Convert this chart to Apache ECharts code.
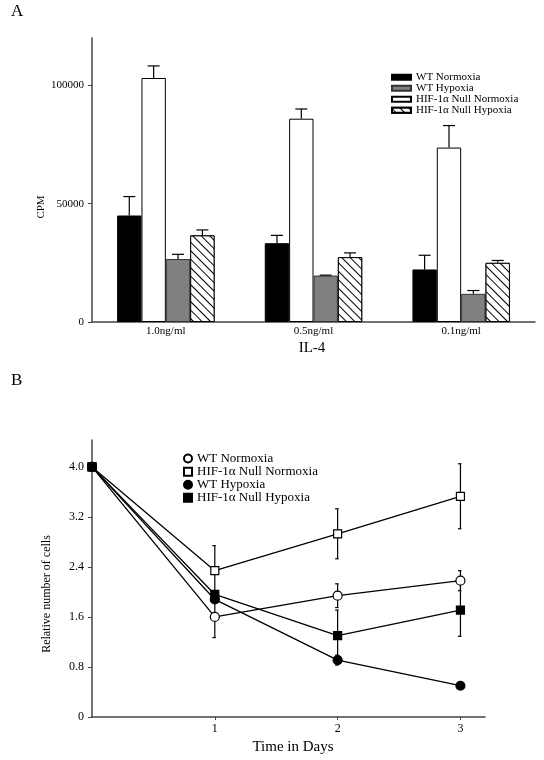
<!DOCTYPE html>
<html>
<head>
<meta charset="utf-8">
<script src="https://cdn.jsdelivr.net/npm/echarts@6/dist/echarts.min.js"></script>
<style>
html,body{margin:0;padding:0;background:#fff;}
#chart{width:544px;height:760px;}
</style>
</head>
<body>
<div id="chart"></div>
<script>
// ---------- Panel A data ----------
var categories = ['1.0ng/ml', '0.5ng/ml', '0.1ng/ml'];
var barNames = ['WT Normoxia', 'HIF-1\u03b1 Null Normoxia', 'WT Hypoxia', 'HIF-1\u03b1 Null Hypoxia'];
var wtNorm = [45000, 33300, 22200];
var wtNormErr = [8000, 3300, 6000];
var nullNorm = [103100, 85900, 73700];
var nullNormErr = [5100, 4100, 9300];
var wtHyp = [26600, 19600, 11900];
var wtHypErr = [2000, 200, 1400];
var nullHyp = [36600, 27400, 25000];
var nullHypErr = [2300, 1800, 1000];
var yTicksA = [0, 50000, 100000];

// ---------- Panel B data ----------
var days = [0, 1, 2, 3];
var wtNormB = [4.0, 1.60, 1.94, 2.18];
var wtNormBErr = [0, 0.33, 0.19, 0.16];
var nullNormB = [4.0, 2.34, 2.93, 3.53];
var nullNormBErr = [0, 0.40, 0.40, 0.52];
var wtHypB = [4.0, 1.88, 0.91, 0.50];
var wtHypBErr = [0, 0, 0.08, 0];
var nullHypB = [4.0, 1.96, 1.30, 1.71];
var nullHypBErr = [0, 0, 0.41, 0.42];
var yTicksB = [0, 0.8, 1.6, 2.4, 3.2, 4.0];
var xTicksB = [1, 2, 3];

var FONT = "'Liberation Serif','Times New Roman',serif";
var AXC = '#444';

var chart = echarts.init(document.getElementById('chart'), null, {renderer: 'canvas'});

var barValues = [wtNorm, nullNorm, wtHyp, nullHyp];
var barErrs = [wtNormErr, nullNormErr, wtHypErr, nullHypErr];
var barGapCat = 0.34;

var errDataA = [];
for (var s = 0; s < 4; s++) {
  for (var c = 0; c < categories.length; c++) {
    errDataA.push([c, barValues[s][c], barErrs[s][c], s]);
  }
}

var hatch = {
  symbol: 'rect',
  symbolSize: 1,
  dashArrayX: [1, 0],
  dashArrayY: [0.9, 4.3],
  rotation: Math.PI / 4,
  color: '#000',
  backgroundColor: '#fff'
};

var barStyles = [
  {color: '#000', borderColor: '#000', borderWidth: 1},
  {color: '#fff', borderColor: '#000', borderWidth: 1},
  {color: '#808080', borderColor: '#333', borderWidth: 1},
  {color: '#fff', borderColor: '#000', borderWidth: 1, decal: hatch}
];

var series = [];
for (var i = 0; i < 4; i++) {
  series.push({
    type: 'bar', name: barNames[i], xAxisIndex: 0, yAxisIndex: 0,
    data: barValues[i], barGap: '0%', barCategoryGap: (barGapCat * 100) + '%',
    itemStyle: barStyles[i], z: 2
  });
}
series.push({
  type: 'custom', name: 'errA', xAxisIndex: 0, yAxisIndex: 0, z: 3,
  data: errDataA,
  renderItem: function (params, api) {
    var ci = api.value(0), v = api.value(1), e = api.value(2), si = api.value(3);
    var base = api.coord([ci, v]);
    var top = api.coord([ci, v + e]);
    var band = api.size([1, 0])[0];
    var bw = band * (1 - barGapCat) / 4;
    var x = base[0] + (si - 1.5) * bw;
    var st = {stroke: '#000', lineWidth: 1.2};
    return {type: 'group', children: [
      {type: 'line', shape: {x1: x, y1: base[1], x2: x, y2: top[1]}, style: st},
      {type: 'line', shape: {x1: x - 6, y1: top[1], x2: x + 6, y2: top[1]}, style: st}
    ]};
  }
});

// Panel B
var lineDefs = [
  {name: 'B:WT Normoxia', vals: wtNormB, errs: wtNormBErr, symbol: 'circle', size: 9, fill: '#fff'},
  {name: 'B:HIF-1\u03b1 Null Normoxia', vals: nullNormB, errs: nullNormBErr, symbol: 'rect', size: 8, fill: '#fff'},
  {name: 'B:WT Hypoxia', vals: wtHypB, errs: wtHypBErr, symbol: 'circle', size: 9, fill: '#000'},
  {name: 'B:HIF-1\u03b1 Null Hypoxia', vals: nullHypB, errs: nullHypBErr, symbol: 'rect', size: 8, fill: '#000'}
];
var errDataB = [];
lineDefs.forEach(function (d) {
  for (var k = 0; k < days.length; k++) {
    if (d.errs[k] > 0) errDataB.push([days[k], d.vals[k], d.errs[k]]);
  }
});
series.push({
  type: 'custom', name: 'errB', xAxisIndex: 1, yAxisIndex: 1, z: 3,
  data: errDataB,
  renderItem: function (params, api) {
    var x = api.value(0), v = api.value(1), e = api.value(2);
    var p1 = api.coord([x, v + e]);
    var p2 = api.coord([x, v - e]);
    var st = {stroke: '#000', lineWidth: 1.2};
    return {type: 'group', children: [
      {type: 'line', shape: {x1: p1[0], y1: p1[1], x2: p2[0], y2: p2[1]}, style: st},
      {type: 'line', shape: {x1: p1[0] - 2.5, y1: p1[1], x2: p1[0] + 1, y2: p1[1]}, style: st},
      {type: 'line', shape: {x1: p2[0] - 2.5, y1: p2[1], x2: p2[0] + 1, y2: p2[1]}, style: st}
    ]};
  }
});
lineDefs.forEach(function (d) {
  series.push({
    type: 'line', name: d.name, xAxisIndex: 1, yAxisIndex: 1, z: 4,
    data: days.map(function (x, k) { return [x, d.vals[k]]; }),
    symbol: d.symbol, symbolSize: d.size, showAllSymbol: true,
    lineStyle: {color: '#000', width: 1.3},
    itemStyle: {color: d.fill, borderColor: '#000', borderWidth: 1.2, opacity: 1}
  });
});

var option = {
  animation: false,
  backgroundColor: '#fff',
  textStyle: {fontFamily: FONT, color: '#000'},
  grid: [
    {left: 92, top: 38, right: 9, bottom: 438, containLabel: false},
    {left: 92, top: 440, right: 59, bottom: 43, containLabel: false}
  ],
  legend: [
    {
      orient: 'vertical', left: 386, top: 66.8, itemWidth: 19, itemHeight: 5, itemGap: 0,
      icon: 'rect',
      data: [barNames[0], barNames[2], barNames[1], barNames[3]],
      textStyle: {fontFamily: FONT, fontSize: 11, color: '#000', lineHeight: 11},
      selectedMode: false
    },
    {
      orient: 'vertical', left: 178, top: 447, itemWidth: 8, itemHeight: 8, itemGap: 0,
      data: [
        {name: 'B:WT Normoxia', icon: 'circle'},
        {name: 'B:HIF-1\u03b1 Null Normoxia', icon: 'rect'},
        {name: 'B:WT Hypoxia', icon: 'circle'},
        {name: 'B:HIF-1\u03b1 Null Hypoxia', icon: 'rect'}
      ],
      formatter: function (n) { return n.replace(/^B:/, ''); },
      textStyle: {fontFamily: FONT, fontSize: 13, color: '#000', lineHeight: 13.1},
      selectedMode: false
    }
  ],
  xAxis: [
    {
      type: 'category', gridIndex: 0, data: categories,
      axisLine: {lineStyle: {color: AXC, width: 1.5}},
      axisTick: {show: false},
      axisLabel: {fontFamily: FONT, fontSize: 11, color: '#000', margin: 4}
    },
    {
      type: 'value', gridIndex: 1, min: 0, max: 3.2, splitLine: {show: false},
      axisLine: {lineStyle: {color: AXC, width: 1.5}},
      axisTick: {show: true, length: 3, customValues: xTicksB, lineStyle: {color: AXC}},
      axisLabel: {fontFamily: FONT, fontSize: 12, color: '#000', margin: 6, customValues: xTicksB}
    }
  ],
  yAxis: [
    {
      type: 'value', gridIndex: 0, min: 0, max: 120000, splitLine: {show: false},
      axisLine: {show: true, lineStyle: {color: AXC, width: 1.5}},
      axisTick: {show: true, length: 4, customValues: yTicksA, lineStyle: {color: AXC}},
      axisLabel: {fontFamily: FONT, fontSize: 11, color: '#000', margin: 8, customValues: yTicksA,
        formatter: function (v) { return String(v); }}
    },
    {
      type: 'value', gridIndex: 1, min: 0, max: 4.43, splitLine: {show: false},
      axisLine: {show: true, lineStyle: {color: AXC, width: 1.5}},
      axisTick: {show: true, length: 4, customValues: yTicksB, lineStyle: {color: AXC}},
      axisLabel: {fontFamily: FONT, fontSize: 12, color: '#000', margin: 8, customValues: yTicksB,
        formatter: function (v) { return v === 0 ? '0' : v.toFixed(1); }}
    }
  ],
  graphic: [
    {type: 'text', left: 11, top: 3, style: {text: 'A', font: '17px ' + FONT, fill: '#000'}},
    {type: 'text', left: 11, top: 372, style: {text: 'B', font: '17px ' + FONT, fill: '#000'}},
    {type: 'text', x: 41, y: 207, rotation: Math.PI / 2,
      style: {text: 'CPM', font: '11px ' + FONT, fill: '#000', align: 'center', verticalAlign: 'middle'}},
    {type: 'text', x: 312, y: 348,
      style: {text: 'IL-4', font: '15px ' + FONT, fill: '#000', align: 'center', verticalAlign: 'middle'}},
    {type: 'text', x: 47, y: 594, rotation: Math.PI / 2,
      style: {text: 'Relative number of cells', font: '12px ' + FONT, fill: '#000', align: 'center', verticalAlign: 'middle'}},
    {type: 'text', x: 293, y: 747,
      style: {text: 'Time in Days', font: '15px ' + FONT, fill: '#000', align: 'center', verticalAlign: 'middle'}}
  ],
  series: series
};
chart.setOption(option);
</script>
</body>
</html>
